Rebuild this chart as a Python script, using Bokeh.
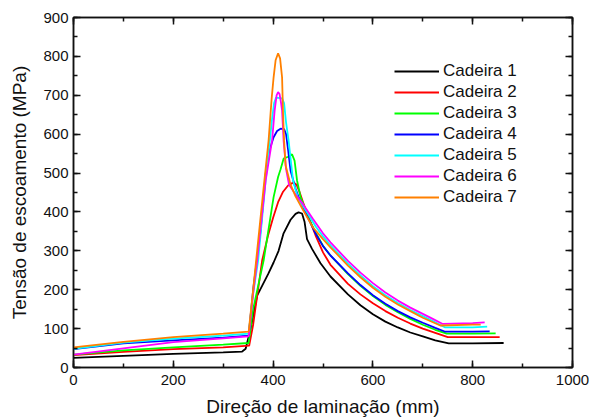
from bokeh.plotting import figure
from bokeh.models import Range1d, LinearAxis, SingleIntervalTicker, Legend, LegendItem
from bokeh.embed import file_html
from bokeh.resources import INLINE

# ---- data ----
names = ["Cadeira 1", "Cadeira 2", "Cadeira 3", "Cadeira 4", "Cadeira 5", "Cadeira 6", "Cadeira 7"]
colors = ["#000000", "#FF0000", "#00FF00", "#0000FF", "#00FFFF", "#FF00FF", "#FF8000"]

x1 = [0, 100, 200, 300, 338, 345, 355, 368, 380, 390, 401, 411, 421, 435, 445, 451, 458, 463, 468, 478, 495, 515,
      550, 575, 600, 625, 650, 675, 700, 725, 752, 800, 862]
y1 = [25, 30, 35, 39, 41, 48, 100, 185, 215, 240, 270, 300, 345, 380, 395, 399, 396, 375, 330, 305, 268, 234,
      188, 160, 137, 118, 103, 90, 80, 70, 62, 62, 63]

x2 = [0, 100, 200, 300, 352, 360, 378, 390, 400, 410, 420, 430, 441, 447, 452, 460, 470, 485, 500, 515,
      550, 575, 600, 625, 650, 675, 700, 725, 750, 800, 854]
y2 = [32, 40, 47, 52, 56, 110, 275, 340, 385, 425, 452, 468, 476, 470, 455, 425, 390, 340, 296, 264,
      215, 188, 165, 145, 128, 113, 100, 89, 78, 78, 78]

x3 = [0, 100, 200, 300, 351, 360, 381, 401, 410, 415, 421, 430, 438, 443, 448, 455, 470, 485, 500, 515,
      550, 575, 600, 625, 650, 675, 700, 725, 748, 800, 846]
y3 = [33, 44, 52, 59, 63, 150, 275, 438, 490, 510, 537, 542, 548, 532, 481, 438, 388, 347, 313, 288,
      240, 210, 184, 161, 142, 125, 110, 97, 87, 87, 88]

x4 = [0, 100, 200, 300, 351, 360, 375, 385, 393, 401, 408, 415, 422, 426, 430, 435, 445, 451, 470, 485, 500, 515,
      550, 575, 600, 625, 650, 675, 700, 725, 745, 800, 834]
y4 = [47, 62, 70, 77, 82, 200, 352, 498, 560, 592, 608, 614, 613, 600, 560, 506, 460, 438, 385, 345, 312, 288,
      242, 212, 186, 164, 145, 129, 115, 102, 92, 92, 93]

x5 = [0, 100, 200, 300, 351, 360, 370, 385, 398, 402, 406, 418, 422, 426, 431, 440, 450, 470, 485, 500, 515,
      550, 575, 600, 625, 650, 675, 700, 725, 745, 800, 829]
y5 = [48, 64, 74, 82, 87, 190, 275, 480, 640, 680, 694, 692, 680, 630, 584, 480, 435, 395, 363, 337, 314,
      267, 237, 209, 186, 166, 148, 132, 116, 103, 103, 105]

x6 = [0, 100, 200, 300, 351, 360, 368, 385, 398, 403, 407, 410, 413, 416, 418, 421, 426, 432, 445, 460, 480, 500, 515,
      550, 575, 600, 625, 650, 675, 700, 720, 740, 800, 824]
y6 = [33, 49, 65, 75, 80, 190, 275, 480, 584, 660, 700, 708, 703, 680, 661, 584, 510, 470, 445, 420, 382, 345, 322,
      274, 244, 217, 193, 172, 154, 138, 125, 112, 114, 116]

x7 = [0, 100, 200, 300, 351, 360, 366, 380, 391, 397, 401, 405, 410, 414, 418, 420, 422, 425, 435, 445, 460, 480, 500, 515,
      550, 575, 600, 625, 650, 675, 700, 735, 800, 816]
y7 = [52, 66, 78, 87, 92, 200, 275, 450, 584, 690, 746, 790, 808, 795, 746, 650, 584, 520, 470, 440, 405, 360, 330, 309,
      262, 232, 205, 182, 162, 145, 128, 108, 110, 110]

xs = [x1, x2, x3, x4, x5, x6, x7]
ys = [y1, y2, y3, y4, y5, y6, y7]

x_label = "Direção de laminação (mm)"
y_label = "Tensão de escoamento (MPa)"

FONT = "Liberation Sans"

p = figure(width=589, height=419, output_backend="svg", toolbar_location=None,
           x_range=Range1d(0, 1000), y_range=Range1d(0, 900),
           min_border_left=73, min_border_right=17, min_border_top=17, min_border_bottom=52,
           x_axis_location=None, y_axis_location=None)
p.xgrid.visible = False
p.ygrid.visible = False
p.outline_line_color = "#111111"
p.outline_line_width = 1.5
p.background_fill_color = "white"
p.border_fill_color = "white"


def style_axis(ax, labels=True):
    ax.axis_line_color = "#111111"
    ax.axis_line_width = 1.5
    ax.major_tick_line_color = "#111111"
    ax.minor_tick_line_color = "#111111"
    ax.major_tick_line_width = 1.5
    ax.minor_tick_line_width = 1.5
    ax.major_tick_in = 7
    ax.major_tick_out = 0
    ax.minor_tick_in = 4
    ax.minor_tick_out = 0
    ax.major_label_text_font = FONT
    ax.major_label_text_font_size = "15px"
    ax.major_label_text_color = "#111111"
    ax.axis_label_text_font = FONT
    ax.axis_label_text_font_size = "19px"
    ax.axis_label_text_font_style = "normal"
    ax.axis_label_text_color = "#111111"
    if not labels:
        ax.major_label_text_alpha = 0
        ax.major_label_text_font_size = "1px"
        ax.major_label_standoff = 0


xt = lambda: SingleIntervalTicker(interval=200, num_minor_ticks=2)
yt = lambda: SingleIntervalTicker(interval=100, num_minor_ticks=2)

bottom = LinearAxis(ticker=xt(), axis_label=x_label)
style_axis(bottom)
bottom.major_label_standoff = 7
bottom.axis_label_standoff = 8
p.add_layout(bottom, "below")

left = LinearAxis(ticker=yt(), axis_label=y_label)
style_axis(left)
left.major_label_standoff = 5
left.axis_label_standoff = 10
p.add_layout(left, "left")

top = LinearAxis(ticker=xt())
style_axis(top, labels=False)
p.add_layout(top, "above")

right = LinearAxis(ticker=yt())
style_axis(right, labels=False)
p.add_layout(right, "right")

items = []
for name, c, xv, yv in zip(names, colors, xs, ys):
    r = p.line(xv, yv, line_color=c, line_width=1.8)
    items.append(LegendItem(label=name, renderers=[r]))

legend = Legend(items=items, location=(321, 160))
legend.background_fill_alpha = 0
legend.border_line_alpha = 0
legend.padding = 0
legend.margin = 0
legend.spacing = 1
legend.glyph_width = 45
legend.glyph_height = 20
legend.label_height = 20
legend.label_standoff = 4
legend.label_text_font = FONT
legend.label_text_font_size = "17px"
legend.label_text_color = "#111111"
p.add_layout(legend, "center")

open("out.html", "w").write(file_html(p, INLINE))
